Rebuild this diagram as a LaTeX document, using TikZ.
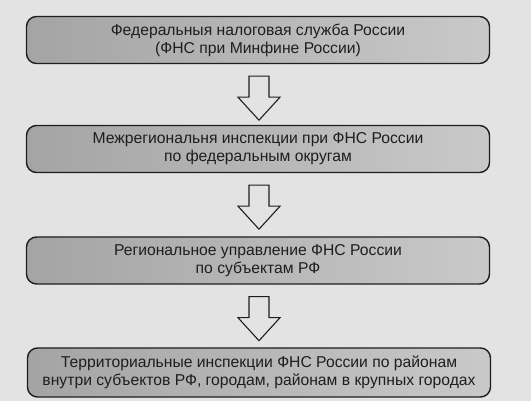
\documentclass[tikz,border=0pt]{standalone}
\usepackage{fontspec}
\setmainfont{Liberation Sans}
\usetikzlibrary{calc}
\definecolor{paper}{HTML}{E3E3E3}
\definecolor{boxL}{HTML}{A4A4A4}
\definecolor{boxR}{HTML}{C9C9C9}
\definecolor{ink}{HTML}{1E1E1E}
\tikzset{
  levelbox/.style={draw=ink, line width=1.4pt, rounded corners=10pt,
    left color=boxL, right color=boxR, minimum width=463pt, minimum height=47pt,
    inner sep=0pt, align=center, text=ink, font=\fontsize{15.7}{18}\selectfont},
  arrowline/.style={draw=ink, line width=1.1pt, fill=paper, line join=miter},
  downarr/.pic={\path[arrowline] (-10,0) -- (-10,-21) -- (-21,-21) -- (0,-44) -- (21,-21) -- (10,-21) -- (10,0) -- cycle;}
}
\begin{document}
\begin{tikzpicture}[x=1pt,y=1pt]
\useasboundingbox (0,0) rectangle (531,-401);
\fill[paper] (0,0) rectangle (531,-401);
\node[levelbox] (b1) at (258,-40) {Федеральныя налоговая служба России\\(ФНС при Минфине России)};
\node[levelbox] (b2) at (258,-149) {Межрегиональня инспекции при ФНС России\\по федеральным округам};
\node[levelbox] (b3) at (258,-260.5) {Региональное управление ФНС России\\по субъектам РФ};
\node[levelbox, minimum height=49pt] (b4) at (259,-372.5) {Территориальные инспекции ФНС России по районам\\внутри субъектов РФ, городам, районам в крупных городах};
\pic at ($(b1.south)+(1,-12)$) {downarr};
\pic at ($(b2.south)+(1,-12)$) {downarr};
\pic at ($(b3.south)+(1,-12)$) {downarr};
\end{tikzpicture}
\end{document}
